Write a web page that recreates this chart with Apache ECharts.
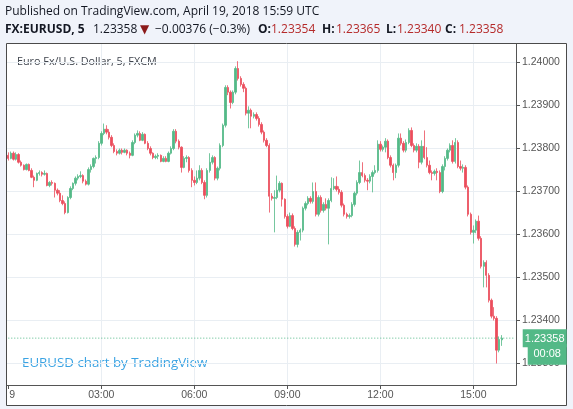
<!DOCTYPE html>
<html><head><meta charset="utf-8">
<script src="https://cdn.jsdelivr.net/npm/echarts@6/dist/echarts.min.js"></script>
<style>html,body{margin:0;padding:0;background:#f0f3fa;}#c{width:573px;height:409px;}</style>
</head><body><div id="c"></div>
<script>
const tickIndex = [0, 36, 72, 108, 144, 180];
const tickLabels = ['9', '03:00', '06:00', '09:00', '12:00', '15:00'];
const priceTicks = [1.233, 1.234, 1.235, 1.236, 1.237, 1.238, 1.239, 1.240];
const lastPrice = 1.23358;
const countdown = '00:08';

const openP = [
1.23783,1.23776,1.23788,1.23774,1.23785,1.23767,1.23760,1.23750,1.23762,1.23748,1.23732,1.23725,
1.23741,1.23743,1.23739,1.23741,1.23713,1.23720,1.23718,1.23702,1.23695,1.23678,1.23671,1.23650,
1.23685,1.23706,1.23718,1.23730,1.23734,1.23736,1.23723,1.23716,1.23750,1.23757,1.23776,1.23778,
1.23811,1.23834,1.23844,1.23837,1.23825,1.23806,1.23792,1.23788,1.23795,1.23790,1.23795,1.23788,
1.23783,1.23813,1.23830,1.23834,1.23818,1.23832,1.23811,1.23799,1.23788,1.23778,1.23781,1.23783,
1.23769,1.23776,1.23769,1.23788,1.23799,1.23839,1.23816,1.23802,1.23755,1.23776,1.23778,1.23748,
1.23725,1.23720,1.23730,1.23748,1.23720,1.23690,1.23748,1.23767,1.23778,1.23730,1.23753,1.23806,
1.23853,1.23941,1.23930,1.23906,1.23930,1.23985,1.23962,1.23948,1.23939,1.23881,1.23888,1.23874,
1.23878,1.23869,1.23855,1.23837,1.23818,1.23806,1.23688,1.23683,1.23685,1.23702,1.23718,1.23681,
1.23641,1.23618,1.23643,1.23613,1.23576,1.23604,1.23609,1.23660,1.23671,1.23683,1.23676,1.23699,
1.23646,1.23685,1.23655,1.23669,1.23660,1.23678,1.23706,1.23711,1.23704,1.23697,1.23667,1.23646,
1.23641,1.23643,1.23669,1.23695,1.23720,1.23743,1.23736,1.23725,1.23723,1.23734,1.23743,1.23748,
1.23809,1.23797,1.23802,1.23816,1.23778,1.23760,1.23743,1.23760,1.23823,1.23811,1.23795,1.23813,
1.23841,1.23806,1.23795,1.23804,1.23767,1.23804,1.23778,1.23760,1.23743,1.23741,1.23746,1.23743,
1.23699,1.23757,1.23776,1.23795,1.23806,1.23769,1.23813,1.23757,1.23753,1.23755,1.23709,1.23646,
1.23604,1.23609,1.23630,1.23590,1.23525,1.23534,1.23504,1.23446,1.23409,1.23404,1.23330,1.23354];

const closeP = [
1.23776,1.23788,1.23774,1.23785,1.23767,1.23760,1.23750,1.23762,1.23748,1.23732,1.23725,1.23741,
1.23743,1.23739,1.23741,1.23713,1.23720,1.23718,1.23702,1.23695,1.23678,1.23671,1.23650,1.23685,
1.23706,1.23718,1.23730,1.23734,1.23736,1.23723,1.23716,1.23750,1.23757,1.23776,1.23778,1.23811,
1.23834,1.23844,1.23837,1.23825,1.23806,1.23792,1.23788,1.23795,1.23790,1.23795,1.23788,1.23783,
1.23813,1.23830,1.23834,1.23818,1.23832,1.23811,1.23799,1.23788,1.23778,1.23781,1.23783,1.23769,
1.23776,1.23769,1.23788,1.23799,1.23839,1.23816,1.23802,1.23755,1.23776,1.23778,1.23748,1.23725,
1.23720,1.23730,1.23748,1.23720,1.23690,1.23748,1.23767,1.23778,1.23730,1.23753,1.23806,1.23853,
1.23941,1.23930,1.23906,1.23930,1.23985,1.23962,1.23948,1.23939,1.23881,1.23888,1.23874,1.23878,
1.23869,1.23855,1.23837,1.23818,1.23806,1.23688,1.23683,1.23685,1.23702,1.23718,1.23681,1.23641,
1.23618,1.23643,1.23613,1.23576,1.23604,1.23609,1.23660,1.23671,1.23683,1.23676,1.23699,1.23646,
1.23685,1.23655,1.23669,1.23660,1.23678,1.23706,1.23711,1.23704,1.23697,1.23667,1.23646,1.23641,
1.23643,1.23669,1.23695,1.23720,1.23743,1.23736,1.23725,1.23723,1.23734,1.23743,1.23748,1.23809,
1.23797,1.23802,1.23816,1.23778,1.23760,1.23743,1.23760,1.23823,1.23811,1.23795,1.23813,1.23841,
1.23806,1.23795,1.23804,1.23767,1.23804,1.23778,1.23760,1.23743,1.23741,1.23746,1.23743,1.23699,
1.23757,1.23776,1.23795,1.23806,1.23769,1.23813,1.23757,1.23753,1.23755,1.23709,1.23646,1.23604,
1.23609,1.23630,1.23590,1.23525,1.23534,1.23504,1.23446,1.23409,1.23404,1.23330,1.23355,1.23358];

const lowP = [
1.23771,1.23774,1.23771,1.23771,1.23764,1.23757,1.23748,1.23748,1.23746,1.23730,1.23709,1.23723,
1.23736,1.23734,1.23736,1.23711,1.23709,1.23713,1.23685,1.23690,1.23674,1.23667,1.23646,1.23648,
1.23681,1.23702,1.23713,1.23725,1.23730,1.23718,1.23713,1.23713,1.23743,1.23753,1.23764,1.23774,
1.23806,1.23830,1.23832,1.23820,1.23802,1.23788,1.23783,1.23785,1.23785,1.23788,1.23783,1.23776,
1.23781,1.23809,1.23825,1.23816,1.23816,1.23809,1.23795,1.23783,1.23774,1.23774,1.23774,1.23767,
1.23767,1.23767,1.23767,1.23785,1.23795,1.23811,1.23797,1.23743,1.23753,1.23767,1.23743,1.23709,
1.23713,1.23716,1.23725,1.23716,1.23681,1.23685,1.23743,1.23762,1.23725,1.23725,1.23748,1.23802,
1.23848,1.23923,1.23892,1.23902,1.23925,1.23957,1.23943,1.23930,1.23876,1.23846,1.23846,1.23869,
1.23864,1.23850,1.23832,1.23813,1.23802,1.23650,1.23678,1.23604,1.23681,1.23697,1.23664,1.23636,
1.23613,1.23616,1.23609,1.23571,1.23569,1.23585,1.23604,1.23655,1.23667,1.23671,1.23671,1.23641,
1.23641,1.23650,1.23650,1.23655,1.23576,1.23674,1.23702,1.23699,1.23692,1.23662,1.23641,1.23636,
1.23636,1.23639,1.23664,1.23690,1.23716,1.23732,1.23720,1.23702,1.23718,1.23697,1.23739,1.23743,
1.23792,1.23792,1.23790,1.23774,1.23755,1.23725,1.23730,1.23755,1.23806,1.23790,1.23790,1.23809,
1.23802,1.23790,1.23790,1.23753,1.23762,1.23774,1.23755,1.23739,1.23725,1.23736,1.23725,1.23695,
1.23695,1.23748,1.23771,1.23790,1.23764,1.23764,1.23753,1.23748,1.23743,1.23704,1.23641,1.23599,
1.23578,1.23602,1.23585,1.23520,1.23476,1.23476,1.23441,1.23404,1.23399,1.23299,1.23325,1.23340];

const highP = [
1.23790,1.23792,1.23792,1.23790,1.23788,1.23771,1.23762,1.23764,1.23764,1.23753,1.23736,1.23743,
1.23748,1.23746,1.23748,1.23743,1.23723,1.23725,1.23720,1.23706,1.23702,1.23690,1.23676,1.23688,
1.23711,1.23720,1.23734,1.23739,1.23746,1.23739,1.23727,1.23755,1.23762,1.23778,1.23783,1.23816,
1.23839,1.23857,1.23853,1.23844,1.23830,1.23811,1.23797,1.23799,1.23799,1.23799,1.23797,1.23792,
1.23818,1.23834,1.23841,1.23839,1.23837,1.23834,1.23816,1.23804,1.23790,1.23785,1.23788,1.23785,
1.23781,1.23781,1.23792,1.23804,1.23844,1.23844,1.23820,1.23804,1.23781,1.23783,1.23781,1.23753,
1.23734,1.23748,1.23760,1.23753,1.23725,1.23753,1.23788,1.23783,1.23781,1.23757,1.23811,1.23857,
1.23946,1.23946,1.23934,1.23934,1.23990,1.24002,1.23967,1.23953,1.23943,1.23897,1.23892,1.23883,
1.23883,1.23874,1.23860,1.23841,1.23823,1.23811,1.23695,1.23702,1.23736,1.23723,1.23720,1.23683,
1.23646,1.23650,1.23648,1.23618,1.23609,1.23613,1.23664,1.23676,1.23688,1.23688,1.23720,1.23720,
1.23690,1.23690,1.23674,1.23683,1.23683,1.23732,1.23730,1.23734,1.23711,1.23702,1.23671,1.23650,
1.23648,1.23674,1.23699,1.23725,1.23771,1.23767,1.23741,1.23730,1.23739,1.23748,1.23760,1.23818,
1.23816,1.23806,1.23823,1.23820,1.23783,1.23764,1.23764,1.23834,1.23834,1.23816,1.23820,1.23846,
1.23848,1.23811,1.23811,1.23809,1.23818,1.23841,1.23802,1.23771,1.23748,1.23750,1.23753,1.23748,
1.23762,1.23781,1.23799,1.23811,1.23818,1.23823,1.23818,1.23771,1.23762,1.23760,1.23713,1.23650,
1.23620,1.23634,1.23643,1.23595,1.23539,1.23539,1.23509,1.23450,1.23430,1.23409,1.23362,1.23365];

// 5-minute slots from 00:00 to 16:20 (axis extends past the last bar)
const times = [];
for (let k = 0; k < 197; k++) {
  const m = k * 5;
  times.push(String(Math.floor(m / 60)).padStart(2, '0') + ':' + String(m % 60).padStart(2, '0'));
}
const candles = openP.map((o, i) => [o, closeP[i], lowP[i], highP[i]]);
// horizontal last-price line: only its two ends are given, joined across the gap
const priceLine = times.map((t, i) => (i === 0 || i === times.length - 1) ? lastPrice : null);

const UP = '#53b987', DOWN = '#eb4d5c', AX = '#555', GRIDC = '#e9eef3';
const isTick = (i) => tickIndex.indexOf(i) >= 0;
const HF = 'Open Sans';

function hText(txt, x, y, fill, weight, size, family) {
  return {type: 'text', x: x, y: y, silent: true,
    style: {text: txt, fill: fill, fontSize: size || 12, fontWeight: weight || 'normal',
            fontFamily: family || HF, verticalAlign: 'middle', align: 'left'}};
}

const chart = echarts.init(document.getElementById('c'), null, {renderer: 'canvas'});
chart.setOption({
  animation: false,
  backgroundColor: 'transparent',
  grid: {left: 7, right: 57, top: 44, bottom: 24, containLabel: false},
  graphic: [
    {type: 'rect', z: -1, silent: true, shape: {x: 6.5, y: 43.5, width: 560, height: 362},
     style: {fill: '#ffffff', stroke: '#4a4a4a', lineWidth: 1}},
    hText('Published on TradingView.com, April 19, 2018 15:59 UTC', 5, 12, '#131722'),
    hText('FX:EURUSD, 5', 5, 30, '#131722', 'bold'),
    hText('1.23358', 93, 30, '#131722'),
    hText('▼', 140, 30, '#8b1a1a', 'normal', 12, 'DejaVu Sans'),
    hText('−0.00376 (−0.3%)', 155, 30, '#131722'),
    hText('O:', 258, 30, '#131722', 'bold'),
    hText('1.23354', 271, 30, '#b52a2a'),
    hText('H:', 322, 30, '#131722', 'bold'),
    hText('1.23365', 336, 30, '#b52a2a'),
    hText('L:', 386, 30, '#131722', 'bold'),
    hText('1.23340', 397, 30, '#b52a2a'),
    hText('C:', 445, 30, '#131722', 'bold'),
    hText('1.23358', 459, 30, '#b52a2a'),
    hText('Euro Fx/U.S. Dollar, 5, FXCM', 17, 62, '#3f444d', 'normal', 10.8),
    hText('EURUSD chart by TradingView', 22, 363, '#3aa3e3', 'normal', 13.3)
  ],
  xAxis: {
    type: 'category', data: times, boundaryGap: true,
    axisLine: {show: true, lineStyle: {color: AX}},
    axisTick: {show: true, alignWithLabel: true, interval: isTick, length: 4, lineStyle: {color: AX}},
    axisLabel: {interval: isTick, color: '#555', fontSize: 10.5, fontFamily: 'Liberation Sans', margin: 5,
      formatter: (v, i) => {
        const k = tickIndex.indexOf(i);
        if (k === 0) return '{a|' + tickLabels[0] + '}';
        return k >= 0 ? tickLabels[k] : '';
      },
      rich: {a: {padding: [0, 0, 0, 8], color: '#555', fontSize: 10.5, fontFamily: 'Liberation Sans'}}},
    splitLine: {show: true, alignWithLabel: true, interval: (i) => isTick(i) && i > 0, lineStyle: {color: GRIDC, width: 1}}
  },
  yAxis: {
    type: 'value', position: 'right', min: 1.23249, max: 1.24042, scale: true,
    axisLine: {show: true, lineStyle: {color: AX}},
    axisTick: {show: true, customValues: priceTicks, length: 4, lineStyle: {color: AX}},
    axisLabel: {customValues: priceTicks, formatter: (v) => v.toFixed(5), color: '#555',
                fontSize: 10.5, fontFamily: 'Liberation Sans', margin: 6},
    splitLine: {show: true, lineStyle: {color: GRIDC, width: 1}}
  },
  series: [{
    type: 'candlestick', data: candles, barWidth: 1.9, z: 3,
    itemStyle: {color: UP, color0: DOWN, borderColor: UP, borderColor0: DOWN, borderWidth: 0.8}
  }, {
    type: 'line', data: priceLine, connectNulls: true, showSymbol: false, symbol: 'none', silent: true, z: 4,
    lineStyle: {color: UP, type: [1, 2], width: 1},
    endLabel: {show: true, distance: 8,
      formatter: '{e|}\n{p|' + lastPrice.toFixed(5) + '}\n{s|}{t|' + countdown + '}',
      rich: {
        e: {height: 17, lineHeight: 17},
        p: {backgroundColor: UP, color: '#fff', width: 38, align: 'center', padding: [2, 3, 1, 3], fontSize: 11, fontFamily: 'Liberation Sans', height: 15, lineHeight: 15},
        s: {width: 5},
        t: {backgroundColor: UP, color: '#fff', width: 29, align: 'center', padding: [2, 5, 2, 5], fontSize: 11, fontFamily: 'Liberation Sans', height: 17, lineHeight: 17}
      }}
  }]
});
</script>
</body></html>
